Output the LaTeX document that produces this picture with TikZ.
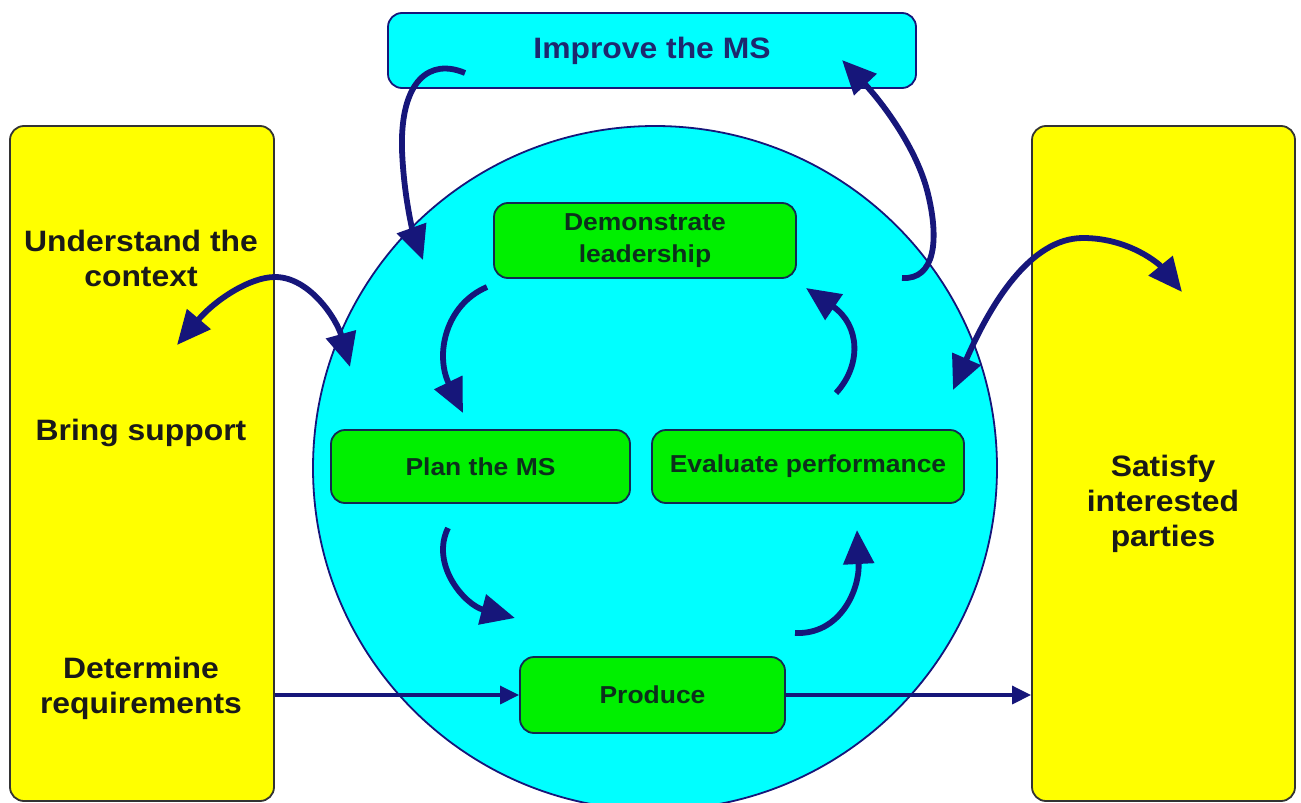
\documentclass[tikz,border=0pt]{standalone}
\usepackage{fontspec}
\setmainfont{Liberation Sans}[FakeStretch=1.08]
\usetikzlibrary{arrows.meta}
\definecolor{navyc}{RGB}{22,22,122}
\definecolor{yellowc}{RGB}{255,255,0}
\definecolor{cyanc}{RGB}{0,255,255}
\definecolor{greenc}{RGB}{0,240,0}
\definecolor{gborder}{RGB}{20,40,80}
\definecolor{gtext}{RGB}{12,48,28}
\definecolor{toptext}{RGB}{30,40,110}
\definecolor{sidetext}{RGB}{25,25,25}
\newcommand{\sidefont}{\bfseries\fontsize{29.5}{35}\selectfont}
\newcommand{\gfont}{\bfseries\fontsize{24.5}{32}\selectfont}
\begin{document}
\begin{tikzpicture}[x=1pt,y=-1pt,
  ybox/.style={draw=black!80, line width=1.8pt, fill=yellowc, rounded corners=14pt, inner sep=0pt},
  topbox/.style={draw=navyc, line width=1.8pt, fill=cyanc, rounded corners=14pt, inner sep=0pt, font=\sidefont, text=toptext},
  bigcirc/.style={circle, draw=navyc, line width=1.8pt, fill=cyanc, inner sep=0pt},
  gbox/.style={draw=gborder, line width=1.8pt, fill=greenc, rounded corners=14pt, inner sep=0pt, font=\gfont, text=gtext, align=center},
  sidelabel/.style={font=\sidefont, text=sidetext, align=center, inner sep=0pt},
  bigarrow/.style={draw=navyc, line width=5.8pt, -{Triangle[length=34pt,width=30pt]}},
  dblarrow/.style={draw=navyc, line width=5.8pt, {Triangle[length=34pt,width=30pt]}-{Triangle[length=34pt,width=30pt]}},
  thinarrow/.style={draw=navyc, line width=3.2pt, -{Triangle[length=19pt,width=18pt]}}
]
\useasboundingbox (0,0) rectangle (1301,803);
\clip (0,0) rectangle (1301,803);
\fill[white] (0,0) rectangle (1301,803);

% side boxes
\node[ybox, minimum width=264pt, minimum height=675pt] (L) at (142,463.5) {};
\node[ybox, minimum width=263pt, minimum height=675pt] (R) at (1163.5,463.5) {};

% top box
\node[topbox, minimum width=528pt, minimum height=75pt] (T) at (652,50.5) {Improve the MS};

% big circle
\node[bigcirc, minimum size=684pt] (C) at (655,468) {};

% side labels
\node[sidelabel] (ctx) at (141,258) {Understand the\\context};
\node[sidelabel] (sup) at (141,433) {Bring support};
\node[sidelabel] (req) at (141,688) {Determine\\requirements};
\node[sidelabel] (sat) at (1163,504) {Satisfy\\interested\\parties};

% green boxes
\node[gbox, minimum width=302pt, minimum height=75pt] (D) at (645,240.5) {Demonstrate\\leadership};
\node[gbox, minimum width=299pt, minimum height=73pt] (P) at (480.5,466.5) {Plan the MS};
\node[gbox, minimum width=312pt, minimum height=73pt] (E) at (808,466.5) {Evaluate performance};
\node[gbox, minimum width=265pt, minimum height=76pt] (Pr) at (652.5,695) {Produce};

% straight arrows
\draw[thinarrow] (L.east |- Pr.west) -- (Pr.west);
\draw[thinarrow] (Pr.east) -- (Pr.east -| R.west);

% free-end coordinates
\coordinate (a1s) at (465,73);
\coordinate (a1e) at (423,260);
\coordinate (a2s) at (902,278);
\coordinate (a2e) at (842,60);
\coordinate (a3s) at (177,345);
\coordinate (a3e) at (350,367);
\coordinate (a4s) at (953,390);
\coordinate (a4e) at (1182,292);
\coordinate (a5s) at (487,287);
\coordinate (a5e) at (463,413);
\coordinate (a6s) at (448,528);
\coordinate (a6e) at (515,618);
\coordinate (a7s) at (795,633);
\coordinate (a7e) at (857,530);
\coordinate (a8s) at (836,393);
\coordinate (a8e) at (806,288);

% curved arrows
\draw[bigarrow] (a1s) .. controls (430,58) and (400,80) .. (402,150) .. controls (404,200) and (414,235) .. (a1e);
\draw[bigarrow] (a2s) .. controls (935,280) and (940,240) .. (927,190) .. controls (915,145) and (880,100) .. (a2e);
\draw[dblarrow] (a3s) .. controls (215,300) and (250,277) .. (275,277) .. controls (310,277) and (337,320) .. (a3e);
\draw[dblarrow] (a4s) .. controls (990,305) and (1030,238) .. (1083,238) .. controls (1130,238) and (1160,265) .. (a4e);
\draw[bigarrow] (a5s) .. controls (445,305) and (435,355) .. (a5e);
\draw[bigarrow] (a6s) .. controls (430,565) and (465,605) .. (a6e);
\draw[bigarrow] (a7s) .. controls (840,635) and (860,590) .. (a7e);
\draw[bigarrow] (a8s) .. controls (862,365) and (860,325) .. (a8e);
\end{tikzpicture}
\end{document}
